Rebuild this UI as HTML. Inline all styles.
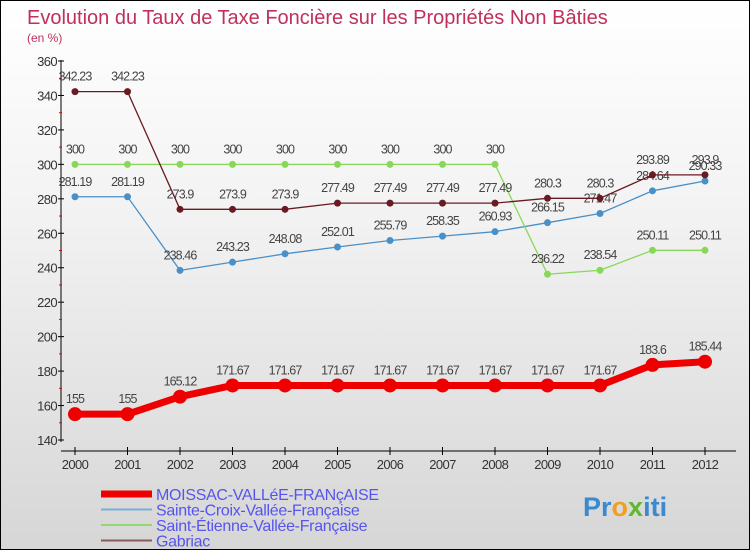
<!DOCTYPE html>
<html><head><meta charset="utf-8"><style>
body{margin:0}
#wrap{width:748px;height:548px;border:1px solid #000;position:relative;background:linear-gradient(#ffffff,#f2f2f2 40%,#d6d6d6);font-family:"Liberation Sans",sans-serif;overflow:hidden}
</style></head><body>
<div id="wrap">
<svg id="svg" width="748" height="548"></svg>
</div>
<script>
const years=["2000","2001","2002","2003","2004","2005","2006","2007","2008","2009","2010","2011","2012"];
const moissac=[155,155,165.12,171.67,171.67,171.67,171.67,171.67,171.67,171.67,171.67,183.6,185.44];
const croix=[281.19,281.19,238.46,243.23,248.08,252.01,255.79,258.35,260.93,266.15,271.47,284.64,290.33];
const etienne=[300,300,300,300,300,300,300,300,300,236.22,238.54,250.11,250.11];
const gabriac=[342.23,342.23,273.9,273.9,273.9,277.49,277.49,277.49,277.49,280.3,280.3,293.89,293.9];
const yTicks=[140,160,180,200,220,240,260,280,300,320,340,360];
const NS="http://www.w3.org/2000/svg",svg=document.getElementById('svg');
const X=i=>74+i*52.5, Y=v=>439-(v-140)*(379/220);
function el(t,a,p){const e=document.createElementNS(NS,t);for(const k in a)e.setAttribute(k,a[k]);(p||svg).appendChild(e);return e;}
function txt(s,a){const e=el('text',a);e.textContent=s;return e;}
let t=txt("Evolution du Taux de Taxe Foncière sur les Propriétés Non Bâties",{x:26,y:23,'font-size':20,fill:"#c0305a"});

t=txt("(en %)",{x:26,y:41,'font-size':12,fill:"#c0305a"});

let a=el('line',{x1:60,y1:59,x2:60,y2:441,stroke:"#000"});
a=el('line',{x1:60,y1:450,x2:735,y2:450,stroke:"#000"});
yTicks.forEach((v,i)=>{el('line',{x1:57,y1:Y(v),x2:63,y2:Y(v),stroke:"#000"});
 if(i<yTicks.length-1)el('line',{x1:58,y1:Y(v+10),x2:61,y2:Y(v+10),stroke:"#e00"});
 const l=txt(v,{x:56,y:Y(v)+5,'font-size':13,fill:"#333",'text-anchor':"end",'letter-spacing':"-0.6"});
 });
years.forEach((y,i)=>{el('line',{x1:X(i),y1:446,x2:X(i),y2:454,stroke:"#000"});
 const l=txt(y,{x:X(i),y:468,'font-size':13,fill:"#333",'text-anchor':"middle",'letter-spacing':"-0.6"});
 });
function series(data,color,w,r,name){
 const g=el('g',{});
 el('polyline',{points:data.map((v,i)=>X(i)+","+Y(v)).join(" "),fill:"none",stroke:color,'stroke-width':w,'stroke-linejoin':"round"},g);
 data.forEach((v,i)=>{const c=el('circle',{cx:X(i),cy:Y(v),r:r,fill:color},g);
  
  const l=txt(String(v),{x:X(i),y:Y(v)-11,'font-size':12.5,fill:"#444",'text-anchor':"middle",'letter-spacing':"-0.9"});
  });
}
series(croix,"#4a90c8",1.3,3.5,"series-sainte-croix");
series(etienne,"#88d858",1.3,3.5,"series-saint-etienne");
series(gabriac,"#6a1a22",1.3,3.5,"series-gabriac");
series(moissac,"#ee0000",7,7,"series-moissac");
const leg=[["MOISSAC-VALLéE-FRANçAISE","#ee0000",7],["Sainte-Croix-Vallée-Française","#7aaed8",2],["Saint-Étienne-Vallée-Française","#90d870",2],["Gabriac","#8a5a5a",2]];
leg.forEach((l,i)=>{const g=el('g',{});
 const y=493+i*15.5;el('line',{x1:100,y1:y,x2:151,y2:y,stroke:l[1],'stroke-width':l[2]},g);
 const tt=el('text',{x:155,y:y+6,'font-size':16,fill:"#5555ee",'letter-spacing':"-0.3"},g);tt.textContent=l[0];});
const lg=el('text',{x:582,y:515,'font-size':27,'font-weight':"bold",fill:"#3a8ad0"});
["P","r","o","x","i","t","i"].forEach((c,i)=>{const s=el('tspan',{fill:["#3a8ad0","#3a8ad0","#f0a020","#60b830","#3a8ad0","#3a8ad0","#3a8ad0"][i]},lg);s.textContent=c;});
</script>
</body></html>
